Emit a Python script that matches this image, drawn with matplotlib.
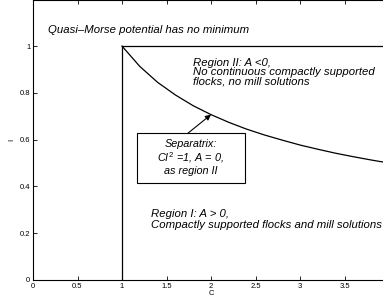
import matplotlib
matplotlib.use("Agg")
import matplotlib.pyplot as plt
from matplotlib.patches import Rectangle

plt.rcParams['font.family'] = ['Liberation Sans', 'DejaVu Sans']
plt.rcParams['mathtext.fontset'] = 'custom'
plt.rcParams['mathtext.rm'] = 'Liberation Sans'
plt.rcParams['mathtext.it'] = 'Liberation Sans:italic'

# separatrix C*I^2 = 1
sep_c = [1.0, 1.2, 1.4, 1.6, 1.8, 2.0, 2.2, 2.4, 2.6, 2.8, 3.0, 3.2, 3.4, 3.6, 3.8, 4.0]
sep_i = [1.000, 0.913, 0.845, 0.791, 0.745, 0.707, 0.674, 0.645, 0.620, 0.598,
         0.577, 0.559, 0.542, 0.527, 0.513, 0.500]
vert_c = [1, 1]
vert_i = [0, 1]
horiz_c = [1, 4]
horiz_i = [1, 1]
xticks = [0, 0.5, 1, 1.5, 2, 2.5, 3, 3.5]
xticklabels = ['0', '0.5', '1', '1.5', '2', '2.5', '3', '3.5']
yticks = [0, 0.2, 0.4, 0.6, 0.8, 1]
yticklabels = ['0', '0.2', '0.4', '0.6', '0.8', '1']

fig = plt.figure(figsize=(3.83, 3.0), dpi=100)
ax = fig.add_axes([33/383, 20/300, 356/383, 280/300])
ax.set_xlim(0, 4)
ax.set_ylim(0, 1.197)

ax.plot(sep_c, sep_i, color='black', lw=0.9)
ax.plot(vert_c, vert_i, color='black', lw=0.9)
ax.plot(horiz_c, horiz_i, color='black', lw=0.9)

ax.set_xticks(xticks)
ax.set_xticklabels(xticklabels)
ax.set_yticks(yticks)
ax.set_yticklabels(yticklabels)
ax.tick_params(direction='in', length=3, width=0.6, labelsize=5.5,
               top=True, right=True, pad=2, colors='black')
for s in ax.spines.values():
    s.set_linewidth(0.8)

ax.set_xlabel('C', fontsize=5.5, labelpad=0)
ax.set_ylabel('I', fontsize=5.5, labelpad=3, rotation=90)

fs = 8.2
ax.text(0.17, 1.068, 'Quasi\u2013Morse potential has no minimum', fontsize=fs,
        style='italic', va='center', ha='left')
ax.text(1.80, 0.889, 'Region II: A <0,\nNo continuous compactly supported\nflocks, no mill solutions',
        fontsize=fs, style='italic', va='center', ha='left', linespacing=0.92)
ax.text(1.33, 0.2585, 'Region I: A > 0,\nCompactly supported flocks and mill solutions',
        fontsize=fs, style='italic', va='center', ha='left', linespacing=1.1)

# separatrix box
ax.add_patch(Rectangle((1.169, 0.415), 2.382 - 1.169, 0.628 - 0.415,
                       fc='white', ec='black', lw=0.8, zorder=3))
ax.text(1.775, 0.524, 'Separatrix:\nC$I^2$ =1, A = 0,\nas region II',
        fontsize=7.8, style='italic', ha='center', va='center', linespacing=1.15,
        zorder=4)
ax.annotate('', xy=(2.0, 0.707), xytext=(1.742, 0.628),
            arrowprops=dict(arrowstyle='-|>', color='black', lw=0.8,
                            mutation_scale=8, shrinkA=0, shrinkB=0))

fig.savefig('out.png', dpi=100)
